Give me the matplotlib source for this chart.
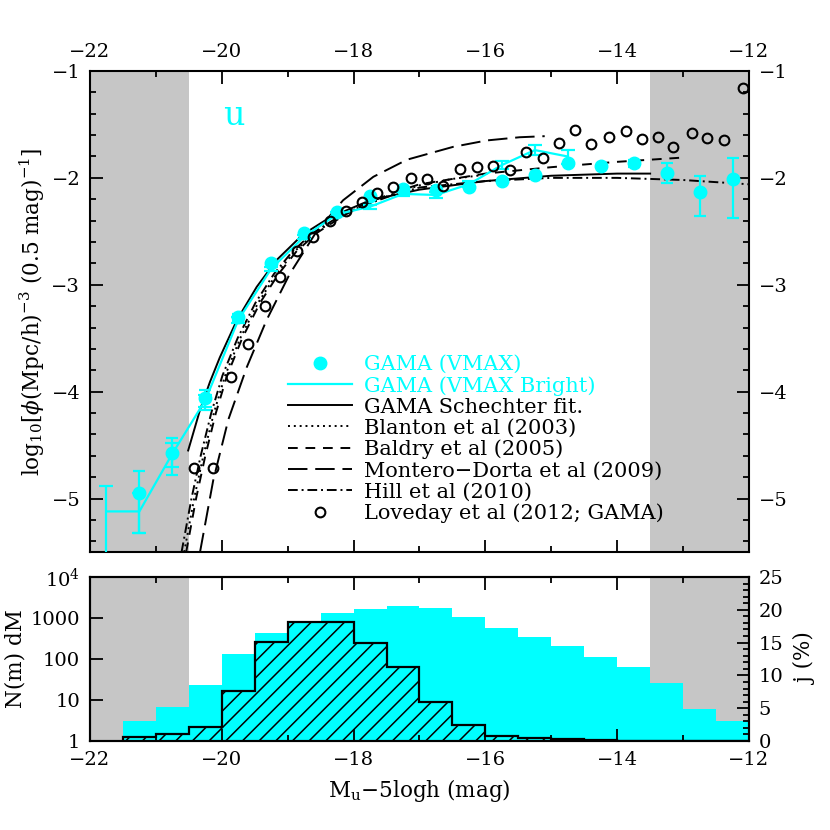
import matplotlib
matplotlib.use("Agg")
import matplotlib.pyplot as plt
from matplotlib.lines import Line2D
from matplotlib.ticker import MultipleLocator, LogLocator, NullFormatter
import numpy as np

plt.rcParams['font.family'] = ['DejaVu Serif']
plt.rcParams['mathtext.fontset'] = 'dejavuserif'
plt.rcParams['hatch.linewidth'] = 1.1

CYAN = '#00ffff'
GREY = '#c6c6c6'

# ---------------- data: top panel ----------------
vmax_x = [-21.25, -20.75, -20.25, -19.75, -19.25, -18.75, -18.25, -17.75, -17.25, -16.75,
          -16.25, -15.75, -15.25, -14.75, -14.25, -13.75, -13.25, -12.75, -12.25]
vmax_y = [-4.95, -4.57, -4.06, -3.30, -2.80, -2.52, -2.32, -2.17, -2.10, -2.11,
          -2.09, -2.03, -1.97, -1.86, -1.89, -1.86, -1.95, -2.13, -2.01]
vmax_elo = [0.37, 0.21, 0.11, 0.04, 0.0, 0.0, 0.0, 0.0, 0.0, 0.0,
            0.0, 0.0, 0.0, 0.0, 0.0, 0.04, 0.10, 0.23, 0.37]
vmax_ehi = [0.21, 0.14, 0.08, 0.03, 0.0, 0.0, 0.0, 0.0, 0.0, 0.0,
            0.0, 0.0, 0.0, 0.0, 0.0, 0.03, 0.09, 0.15, 0.20]

bright_x = [-21.75, -21.25, -20.75, -20.25, -19.75, -19.25, -18.75, -18.25, -17.75, -17.25,
            -16.75, -16.25, -15.75, -15.25, -14.75]
bright_y = [-5.12, -5.12, -4.58, -4.08, -3.33, -2.85, -2.55, -2.34, -2.27, -2.15,
            -2.16, -2.06, -1.88, -1.74, -1.80]
bright_elo = [1.00, 0.20, 0.12, 0.06, 0.03, 0.02, 0.02, 0.02, 0.02, 0.02,
              0.03, 0.03, 0.04, 0.05, 0.07]
bright_ehi = [0.24, 0.17, 0.10, 0.05, 0.03, 0.02, 0.02, 0.02, 0.02, 0.02,
              0.03, 0.03, 0.04, 0.05, 0.06]

fit_x = [-20.51, -20.33, -20.18, -20.03, -19.77, -19.47, -19.17, -18.77, -18.36, -17.75,
         -17.0, -16.0, -15.0, -14.0, -13.5]
fit_y = [-4.55, -4.17, -3.91, -3.68, -3.33, -3.02, -2.77, -2.53, -2.37, -2.21,
         -2.11, -2.03, -1.98, -1.96, -1.96]

blanton_x = [-20.57, -20.42, -20.28, -20.12, -19.95, -19.72, -19.45, -19.17, -18.90, -18.60,
             -18.30, -17.90, -17.40, -17.0, -16.5, -16.0]
blanton_y = [-5.5, -5.0, -4.6, -4.2, -3.85, -3.50, -3.17, -2.90, -2.69, -2.52,
             -2.40, -2.27, -2.15, -2.07, -2.01, -1.97]

baldry_x = [-20.54, -20.39, -20.25, -20.09, -19.92, -19.69, -19.42, -19.14, -18.87, -18.57,
            -18.27, -17.9, -17.4, -17.0, -16.0, -15.0, -14.0, -13.0]
baldry_y = [-5.5, -5.0, -4.6, -4.2, -3.85, -3.50, -3.17, -2.90, -2.69, -2.52,
            -2.40, -2.26, -2.14, -2.06, -1.96, -1.90, -1.85, -1.81]

montero_x = [-20.33, -20.13, -19.90, -19.62, -19.32, -18.97, -18.56, -18.16, -17.70, -17.19,
             -16.49, -15.98, -15.48, -15.10]
montero_y = [-5.50, -4.83, -4.26, -3.77, -3.33, -2.90, -2.50, -2.21, -1.99, -1.83,
             -1.71, -1.65, -1.62, -1.61]

hill_x = [-20.61, -20.46, -20.32, -20.16, -19.99, -19.76, -19.49, -19.21, -18.93, -18.63,
          -18.32, -17.9, -17.4, -17.0, -16.0, -15.0, -14.0, -13.0, -12.0]
hill_y = [-5.5, -5.0, -4.6, -4.2, -3.85, -3.50, -3.17, -2.90, -2.69, -2.52,
          -2.40, -2.27, -2.16, -2.09, -2.03, -2.00, -2.00, -2.02, -2.06]

lov_x = [-20.42, -20.13, -19.86, -19.60, -19.34, -19.11, -18.86, -18.62, -18.36, -18.12,
         -17.87, -17.64, -17.40, -17.13, -16.89, -16.64, -16.39, -16.13, -15.88, -15.63,
         -15.38, -15.13, -14.88, -14.64, -14.39, -14.12, -13.87, -13.63, -13.38, -13.15,
         -12.87, -12.64, -12.38, -12.09]
lov_y = [-4.71, -4.71, -3.86, -3.55, -3.20, -2.93, -2.68, -2.55, -2.40, -2.31,
         -2.23, -2.14, -2.09, -2.00, -2.01, -2.08, -1.92, -1.90, -1.89, -1.93,
         -1.76, -1.81, -1.67, -1.55, -1.68, -1.62, -1.56, -1.64, -1.62, -1.71,
         -1.58, -1.63, -1.65, -1.16]

# ---------------- data: bottom panel ----------------
hist_edges = [-21.5, -21.0, -20.5, -20.0, -19.5, -19.0, -18.5, -18.0, -17.5, -17.0,
              -16.5, -16.0, -15.5, -15.0, -14.5, -14.0, -13.5, -13.0, -12.5, -12.0]
n_counts = [3.0, 6.9, 23, 130, 423, 850, 1300, 1630, 1960, 1730,
            1040, 580, 350, 207, 110, 63, 25.5, 5.9, 3.0]
j_percent = [0.66, 1.0, 2.1, 7.7, 15.1, 18.1, 18.2, 15.0, 11.3, 6.0,
             2.4, 0.8, 0.4, 0.25, 0.1, 0.05, 0.03, 0.02, 0.02]

bright_limit = -20.5
faint_limit = -13.5
xmin, xmax = -22, -12

# ---------------- figure ----------------
fig = plt.figure(figsize=(8.3, 8.3), dpi=100)
ax1 = fig.add_axes([0.1084, 0.3349, 0.7940, 0.5796])
ax2 = fig.add_axes([0.1084, 0.1072, 0.7940, 0.1976])

lw = 1.4
for ax in (ax1, ax2):
    ax.axvspan(xmin, bright_limit, color=GREY, lw=0, zorder=0)
    ax.axvspan(faint_limit, xmax, color=GREY, lw=0, zorder=0)
    for s in ax.spines.values():
        s.set_linewidth(1.5)

# top panel curves
ax1.plot(fit_x, fit_y, color='black', lw=lw, zorder=3)
ax1.plot(blanton_x, blanton_y, color='black', lw=lw, dashes=(1, 2), zorder=3)
ax1.plot(baldry_x, baldry_y, color='black', lw=lw, dashes=(5, 4), zorder=3)
ax1.plot(montero_x, montero_y, color='black', lw=lw, dashes=(10, 4), zorder=3)
ax1.plot(hill_x, hill_y, color='black', lw=lw, dashes=(5, 2, 1, 2), zorder=3)

ax1.errorbar(bright_x, bright_y, yerr=[bright_elo, bright_ehi], color=CYAN, lw=1.6,
             elinewidth=1.6, capsize=5, capthick=1.6, zorder=4)
ax1.errorbar(vmax_x, vmax_y, yerr=[vmax_elo, vmax_ehi], fmt='o', color=CYAN, ms=9,
             elinewidth=1.6, capsize=4.5, capthick=1.6, zorder=5)
ax1.plot(lov_x, lov_y, 'o', mfc='none', mec='black', mew=1.5, ms=7, zorder=6)

ax1.text(-19.82, -1.42, 'u', color=CYAN, fontsize=24, ha='center', va='center')

ax1.set_xlim(xmin, xmax)
ax1.set_ylim(-5.5, -1)
ax1.xaxis.set_major_locator(MultipleLocator(2))
ax1.xaxis.set_minor_locator(MultipleLocator(1))
ax1.yaxis.set_major_locator(MultipleLocator(1))
ax1.yaxis.set_minor_locator(MultipleLocator(0.2))
ax1.tick_params(axis='both', which='both', direction='in', top=True, bottom=True,
                left=True, right=True, labeltop=True, labelbottom=False,
                labelleft=True, labelright=True, labelsize=14, width=1.3)
ax1.tick_params(which='major', length=9, pad=7)
ax1.tick_params(which='minor', length=4.5)
ax1.set_ylabel('log$_{10}$[$\\phi$(Mpc/h)$^{-3}$ (0.5 mag)$^{-1}$]', fontsize=15.5, labelpad=3)

handles = [
    Line2D([], [], marker='o', ls='none', color=CYAN, ms=9),
    Line2D([], [], color=CYAN, lw=1.6),
    Line2D([], [], color='black', lw=lw),
    Line2D([], [], color='black', lw=lw, dashes=(1, 2)),
    Line2D([], [], color='black', lw=lw, dashes=(5, 4)),
    Line2D([], [], color='black', lw=lw, dashes=(10, 4)),
    Line2D([], [], color='black', lw=lw, dashes=(5, 2, 1, 2)),
    Line2D([], [], marker='o', ls='none', mfc='none', mec='black', mew=1.5, ms=7),
]
labels = ['GAMA (VMAX)', 'GAMA (VMAX Bright)', 'GAMA Schechter fit.', 'Blanton et al (2003)',
          'Baldry et al (2005)', 'Montero\u2212Dorta et al (2009)', 'Hill et al (2010)',
          'Loveday et al (2012; GAMA)']
ax1.legend(handles, labels, loc='upper left', bbox_to_anchor=(0.300, 0.410),
           frameon=False, fontsize=15, handlelength=3.1, handletextpad=0.55,
           labelspacing=0.10, borderpad=0, borderaxespad=0,
           labelcolor=[CYAN, CYAN] + ['black'] * 6)

# bottom panel
ax2.stairs(n_counts, hist_edges, baseline=1, fill=True, color=CYAN, lw=0, zorder=1)
ax2.set_yscale('log')
ax2.set_ylim(1, 1e4)
ax2.set_xlim(xmin, xmax)
ax2.set_yticks([1, 10, 100, 1000, 1e4])
ax2.set_yticklabels(['1', '10', '100', '1000', '10$^4$'])
ax2.yaxis.set_minor_locator(LogLocator(base=10, subs=np.arange(2, 10)))
ax2.yaxis.set_minor_formatter(NullFormatter())
ax2.xaxis.set_major_locator(MultipleLocator(2))
ax2.xaxis.set_minor_locator(MultipleLocator(1))
ax2.tick_params(axis='both', which='both', direction='in', top=True, bottom=True,
                left=True, right=False, labelsize=14, width=1.3)
ax2.tick_params(which='major', length=9, pad=7)
ax2.tick_params(which='minor', length=4.5)
ax2.set_ylabel('N(m) dM', fontsize=15.5, labelpad=3)
ax2.set_xlabel('M$_{\\rm u}$\u22125logh (mag)', fontsize=15.5, labelpad=6)

ax3 = ax2.twinx()
ax3.stairs(j_percent, hist_edges, baseline=0, fill=True, facecolor='none',
           edgecolor='black', hatch='//', lw=1.6, zorder=2)
ax3.set_ylim(0, 25)
ax3.yaxis.set_major_locator(MultipleLocator(5))
ax3.yaxis.set_minor_locator(MultipleLocator(1))
ax3.tick_params(axis='y', which='both', direction='in', right=True, labelsize=14, width=1.3)
ax3.tick_params(which='major', length=9, pad=7)
ax3.tick_params(which='minor', length=4.5)
ax3.set_ylabel('j (%)', fontsize=15.5, rotation=90, labelpad=8)
for s in ax3.spines.values():
    s.set_linewidth(1.5)

fig.savefig('out.png', dpi=100)
